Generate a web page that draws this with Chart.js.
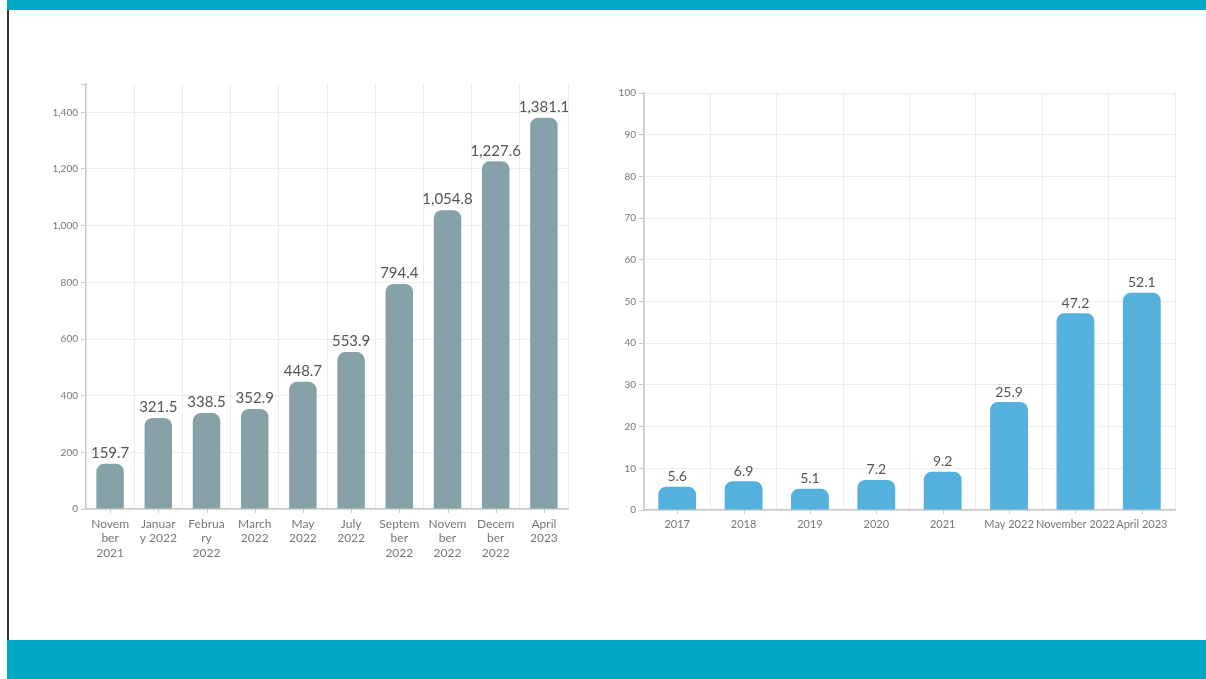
<!DOCTYPE html>
<html>
<head>
<meta charset="utf-8">
<script src="https://cdn.jsdelivr.net/npm/chart.js@4/dist/chart.umd.min.js"></script>
<style>
  body { margin: 0; width: 1206px; height: 679px; background: #fff; position: relative; overflow: hidden; font-family: Lato, sans-serif; }
  #topBar { position: absolute; left: 7px; top: 0; width: 1199px; height: 10px; background: #00aac4; }
  #bottomBar { position: absolute; left: 7px; top: 640px; width: 1199px; height: 39px; background: #00aac4; }
  #leftLine { position: absolute; left: 7px; top: 10px; width: 1.5px; height: 630px; background: #333; }
  .box { position: absolute; }
  #leftBox { left: 30px; top: 75px; width: 548px; height: 494px; }
  #rightBox { left: 600px; top: 80px; width: 585px; height: 460px; }
</style>
</head>
<body>
<div id="topBar"></div>
<div id="leftLine"></div>
<div id="bottomBar"></div>
<div class="box" id="leftBox"><canvas id="leftChart"></canvas></div>
<div class="box" id="rightBox"><canvas id="rightChart"></canvas></div>
<script>
// left chart data
const leftLabels = [
  ['Novem', 'ber', '2021'], ['Januar', 'y 2022'], ['Februa', 'ry', '2022'], ['March', '2022'],
  ['May', '2022'], ['July', '2022'], ['Septem', 'ber', '2022'], ['Novem', 'ber', '2022'],
  ['Decem', 'ber', '2022'], ['April', '2023']
];
const leftValues = [159.7, 321.5, 338.5, 352.9, 448.7, 553.9, 794.4, 1054.8, 1227.6, 1381.1];

// right chart data
const rightLabels = ['2017', '2018', '2019', '2020', '2021', 'May 2022', 'November 2022', 'April 2023'];
const rightValues = [5.6, 6.9, 5.1, 7.2, 9.2, 25.9, 47.2, 52.1];

const fmt = v => v.toLocaleString('en-US', { minimumFractionDigits: 1, maximumFractionDigits: 1 });

// value labels above bars + small ticks at bar centres
const valueLabels = {
  id: 'valueLabels',
  afterDatasetsDraw(chart, args, opts) {
    const ctx = chart.ctx;
    const meta = chart.getDatasetMeta(0);
    const xs = chart.scales.x;
    ctx.save();
    ctx.font = opts.size + 'px Lato, sans-serif';
    ctx.fillStyle = '#555';
    ctx.textAlign = 'center';
    ctx.textBaseline = 'bottom';
    meta.data.forEach((bar, i) => {
      ctx.fillText(fmt(chart.data.datasets[0].data[i]), bar.x, bar.y - 3);
    });
    ctx.strokeStyle = '#ccc';
    ctx.lineWidth = 1;
    meta.data.forEach((bar, i) => {
      const x = Math.round(xs.getPixelForValue(i)) + 0.5;
      ctx.beginPath();
      ctx.moveTo(x, xs.top);
      ctx.lineTo(x, xs.top + 4);
      ctx.stroke();
    });
    ctx.restore();
  }
};

function makeChart(id, labels, values, color, yMax, step, yWidth, xHeight, radius, xFont, labelSize, pad) {
  return new Chart(document.getElementById(id), {
    type: 'bar',
    data: {
      labels: labels,
      datasets: [{
        data: values,
        backgroundColor: color,
        borderRadius: radius,
        borderSkipped: 'start',
        barPercentage: 0.57,
        categoryPercentage: 1
      }]
    },
    options: {
      responsive: true,
      maintainAspectRatio: false,
      animation: false,
      layout: { padding: pad },
      plugins: {
        legend: { display: false },
        tooltip: { enabled: false },
        valueLabels: { size: labelSize }
      },
      scales: {
        x: {
          grid: { color: '#ececec', offset: true, drawTicks: false },
          border: { color: '#c8c8c8', width: 1.5 },
          ticks: { color: '#777', font: { family: 'Lato', size: xFont }, padding: 8, maxRotation: 0, autoSkip: false },
          afterFit: s => { s.height = xHeight; }
        },
        y: {
          min: 0,
          max: yMax,
          grid: {
            color: c => (c.tick && c.tick.value % step !== 0) ? 'rgba(0,0,0,0)' : '#ececec',
            tickLength: 5,
            tickColor: '#c8c8c8'
          },
          border: { color: '#c8c8c8', width: 1.5 },
          ticks: {
            stepSize: step,
            color: '#777',
            font: { family: 'Lato', size: 10 },
            padding: 3,
            callback: v => v % step === 0 ? v.toLocaleString('en-US') : ''
          },
          afterFit: s => { s.width = yWidth; }
        }
      }
    },
    plugins: [valueLabels]
  });
}

makeChart('leftChart', leftLabels, leftValues, '#87a1a8', 1500, 200, 56, 60, 8, 12, 15, { top: 8, right: 10 });
makeChart('rightChart', rightLabels, rightValues, '#55b0de', 100, 10, 44, 30, 8, 11, 14, { top: 13, right: 10 });
</script>
</body>
</html>
